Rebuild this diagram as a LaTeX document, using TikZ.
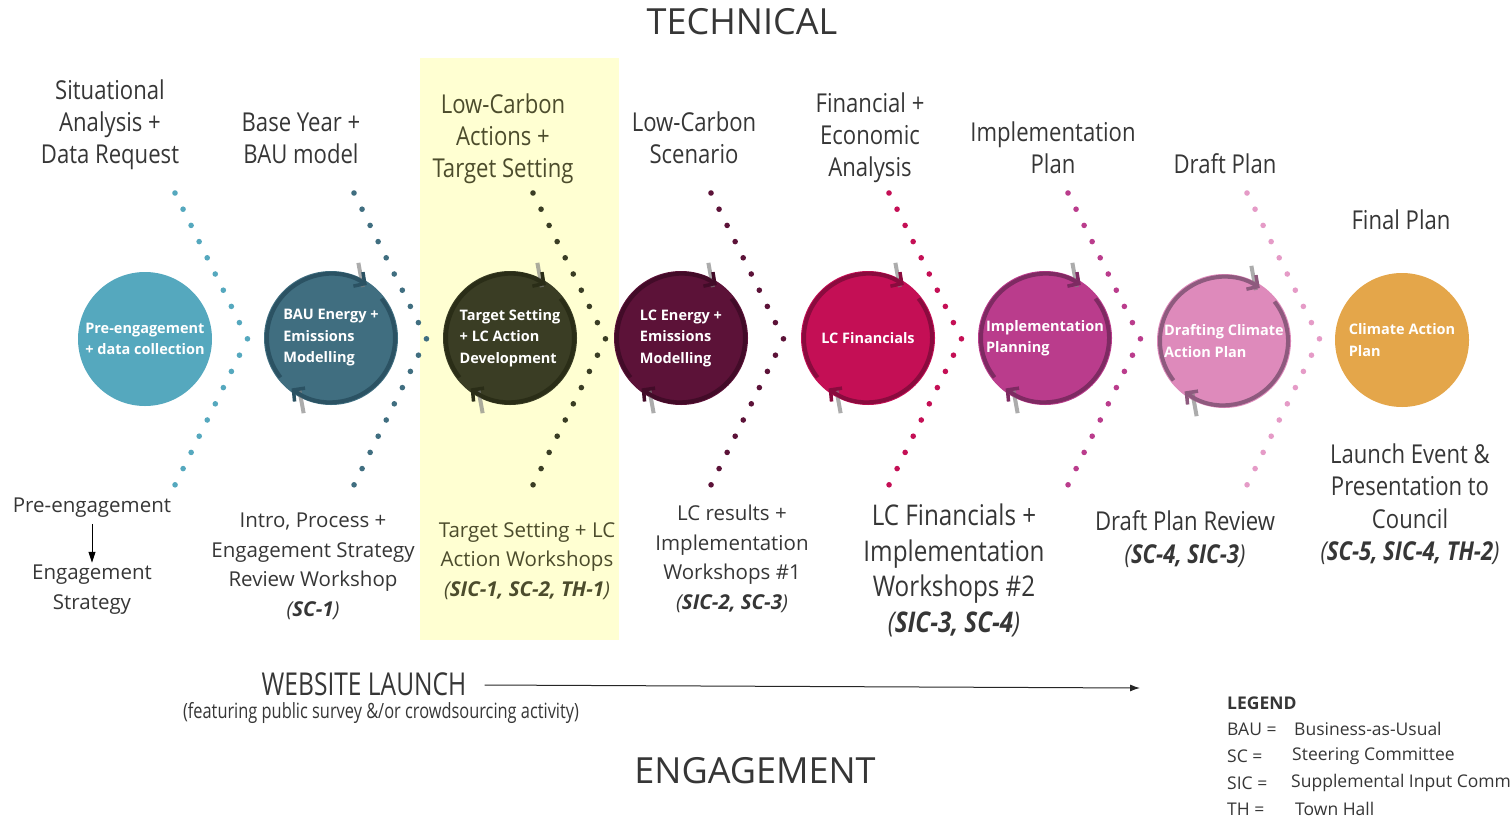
\documentclass[tikz,border=0pt]{standalone}
\usepackage{fontspec}
\setmainfont{Open Sans}
\newfontfamily\condfont[FakeStretch=0.85]{Open Sans}
\newfontfamily\narrowfont[FakeStretch=0.78]{Open Sans}
\usetikzlibrary{arrows.meta}
\definecolor{cA}{HTML}{55A8BE}
\definecolor{cB}{HTML}{406E80}
\definecolor{cC}{HTML}{3A3D24}
\definecolor{cD}{HTML}{5C1238}
\definecolor{cE}{HTML}{C40F55}
\definecolor{cF}{HTML}{BA3C8C}
\definecolor{cG}{HTML}{DE8ABB}
\definecolor{cH}{HTML}{E4A64A}
\definecolor{cGdot}{HTML}{E59BC7}
\definecolor{rB}{HTML}{2B5263}
\definecolor{rC}{HTML}{2A2D17}
\definecolor{rD}{HTML}{420B28}
\definecolor{rE}{HTML}{8A0B3E}
\definecolor{rF}{HTML}{7E2A62}
\definecolor{rG}{HTML}{8E5A7E}
\definecolor{ybg}{HTML}{FFFFD2}
\definecolor{txt}{HTML}{363636}
\definecolor{oltxt}{HTML}{4C4C2C}
\newcommand\chevdots[2]{%
  \foreach \i in {0,...,9}{\fill[#2] ({#1+\i*8.05},{-193-\i*16.2}) circle (2.8);}
  \foreach \i in {1,...,9}{\fill[#2] ({#1+72.5-\i*8.05},{-339-\i*16.2}) circle (2.8);}
}
\newcommand\cycring[2]{%
  \draw[grayline] ([shift={(58:60)}]#1.center) -- ([shift={(70:80)}]#1.center);
  \draw[grayline] ([shift={(238:60)}]#1.center) -- ([shift={(250:80)}]#1.center);
  \draw[ringst, draw=#2] ([shift={(38:64)}]#1.center) arc[start angle=38, end angle=-128, radius=64];
  \draw[ringst, draw=#2] ([shift={(218:64)}]#1.center) arc[start angle=218, end angle=56, radius=64];
}
\begin{document}
\begin{tikzpicture}[x=1pt,y=1pt,
  circ/.style={circle, minimum size=134pt, inner sep=0pt, text=white,
    font=\bfseries\fontsize{14.5}{21.5}\selectfont, align=left},
  toplab/.style={text=txt, font=\condfont\fontsize{26}{32}\selectfont, align=center, inner sep=0pt},
  botlab/.style={text=txt, font=\fontsize{20.5}{29.5}\selectfont, align=center, inner sep=0pt},
  botlabc/.style={text=txt, font=\condfont\fontsize{26}{32.5}\selectfont, align=center, inner sep=0pt},
  leg/.style={text=txt, font=\fontsize{17.5}{20}\selectfont, anchor=west, inner sep=0pt},
  grayline/.style={draw=gray, opacity=0.65, line width=4pt},
  ringst/.style={line width=4pt, -{Straight Barb[length=8pt, width=17pt, line width=3.5pt]}},
  title/.style={text=txt, font=\fontsize{36}{40}\selectfont, inner sep=0pt}
]
\useasboundingbox (0,0) rectangle (1511,-819);
\clip (0,0) rectangle (1511,-819);
\fill[ybg] (420,-58) rectangle (619,-640);

% dotted chevrons
\chevdots{175}{cA}
\chevdots{354}{cB}
\chevdots{533}{cC}
\chevdots{711}{cD}
\chevdots{889}{cE}
\chevdots{1068}{cF}
\chevdots{1247}{cGdot}

% circles
\node[circ, fill=cA] (c1) at (145,-339) {Pre-engagement\\+ data collection};
\node[circ, fill=cB] (c2) at (331,-338) {BAU Energy +\\Emissions\\Modelling};
\node[circ, fill=cC] (c3) at (510,-338) {Target Setting\\+ LC Action\\Development};
\node[circ, fill=cD] (c4) at (681,-338) {LC Energy +\\Emissions\\Modelling};
\node[circ, fill=cE] (c5) at (868,-338) {LC Financials};
\node[circ, fill=cF] (c6) at (1045,-338) {Implementation\\Planning};
\node[circ, fill=cG] (c7) at (1224,-341) {Drafting Climate\\Action Plan};
\node[circ, fill=cH] (c8) at (1402,-340) {Climate Action\\Plan};

\cycring{c2}{rB}
\cycring{c3}{rC}
\cycring{c4}{rD}
\cycring{c5}{rE}
\cycring{c6}{rF}
\cycring{c7}{rG}

% titles
\node[title] (tech) at (742,-22) {TECHNICAL};
\node[title] (eng) at (755,-771) {ENGAGEMENT};

% top labels
\node[toplab] (t1) at (110,-125) {Situational\\Analysis +\\Data Request};
\node[toplab] (t2) at (301,-138) {Base Year +\\BAU model};
\node[toplab, text=oltxt] (t3) at (503,-138.5) {Low-Carbon\\Actions +\\Target Setting};
\node[toplab] (t4) at (694,-138) {Low-Carbon\\Scenario};
\node[toplab] (t5) at (870,-138) {Financial +\\Economic\\Analysis};
\node[toplab] (t6) at (1053,-148) {Implementation\\Plan};
\node[toplab] (t7) at (1225,-164) {Draft Plan};
\node[toplab] (t8) at (1401,-220) {Final Plan};

% bottom labels
\node[botlab] (pe) at (92,-508) {Pre-engagement};
\node[botlab] (es) at (92,-589.5) {Engagement\\Strategy};
\draw[-{Triangle[length=11pt, width=7pt]}, line width=0.9pt] ([yshift=-6pt]pe.south) -- ([yshift=2pt]es.north);
\node[botlab] (b2) at (313,-566.5) {Intro, Process +\\Engagement Strategy\\Review Workshop\\\textit{(\textbf{SC-1})}};
\node[botlab, text=oltxt] (b3) at (527,-561) {Target Setting + LC\\Action Workshops\\\textit{(\textbf{SIC-1, SC-2, TH-1})}};
\node[botlab] (b4) at (732,-559) {LC results +\\Implementation\\Workshops \#1\\\textit{(\textbf{SIC-2, SC-3})}};
\node[botlabc, font=\condfont\fontsize{28.5}{35.5}\selectfont] (b5) at (954,-570.5) {LC Financials +\\Implementation\\Workshops \#2\\\textit{(\textbf{SIC-3, SC-4})}};
\node[botlabc, font=\condfont\fontsize{26}{33}\selectfont] (b6) at (1185,-539.5) {Draft Plan Review\\\textit{(\textbf{SC-4, SIC-3})}};
\node[botlabc] (b7) at (1410,-504) {Launch Event \&\\Presentation to\\Council\\\textit{(\textbf{SC-5, SIC-4, TH-2})}};

% website launch
\node[text=txt, font=\narrowfont\fontsize{31.5}{34}\selectfont, inner sep=0pt] (wl) at (364,-684) {WEBSITE LAUNCH};
\node[text=txt, font=\narrowfont\fontsize{21}{24}\selectfont, inner sep=0pt] (wls) at (381,-713) {(featuring public survey \&/or crowdsourcing activity)};
\coordinate (wlend) at (1140,-688);
\draw[-{Latex[length=10pt, width=7pt]}, line width=1pt, black!85] ([xshift=18pt,yshift=-1pt]wl.east) -- (wlend);

% legend
\node[leg, font=\bfseries\fontsize{17.5}{20}\selectfont] (lg) at (1227,-703) {LEGEND};
\node[leg] (l1a) at (1227,-729) {BAU =};
\node[leg] (l1b) at (1294,-729) {Business-as-Usual};
\node[leg] (l2a) at (1227,-756) {SC =};
\node[leg] (l2b) at (1292,-756) {Steering Committee};
\node[leg] (l3a) at (1227,-783) {SIC =};
\node[leg] (l3b) at (1291,-783) {Supplemental Input Comm};
\node[leg] (l4a) at (1227,-809) {TH =};
\node[leg] (l4b) at (1295,-809) {Town Hall};
\end{tikzpicture}
\end{document}
